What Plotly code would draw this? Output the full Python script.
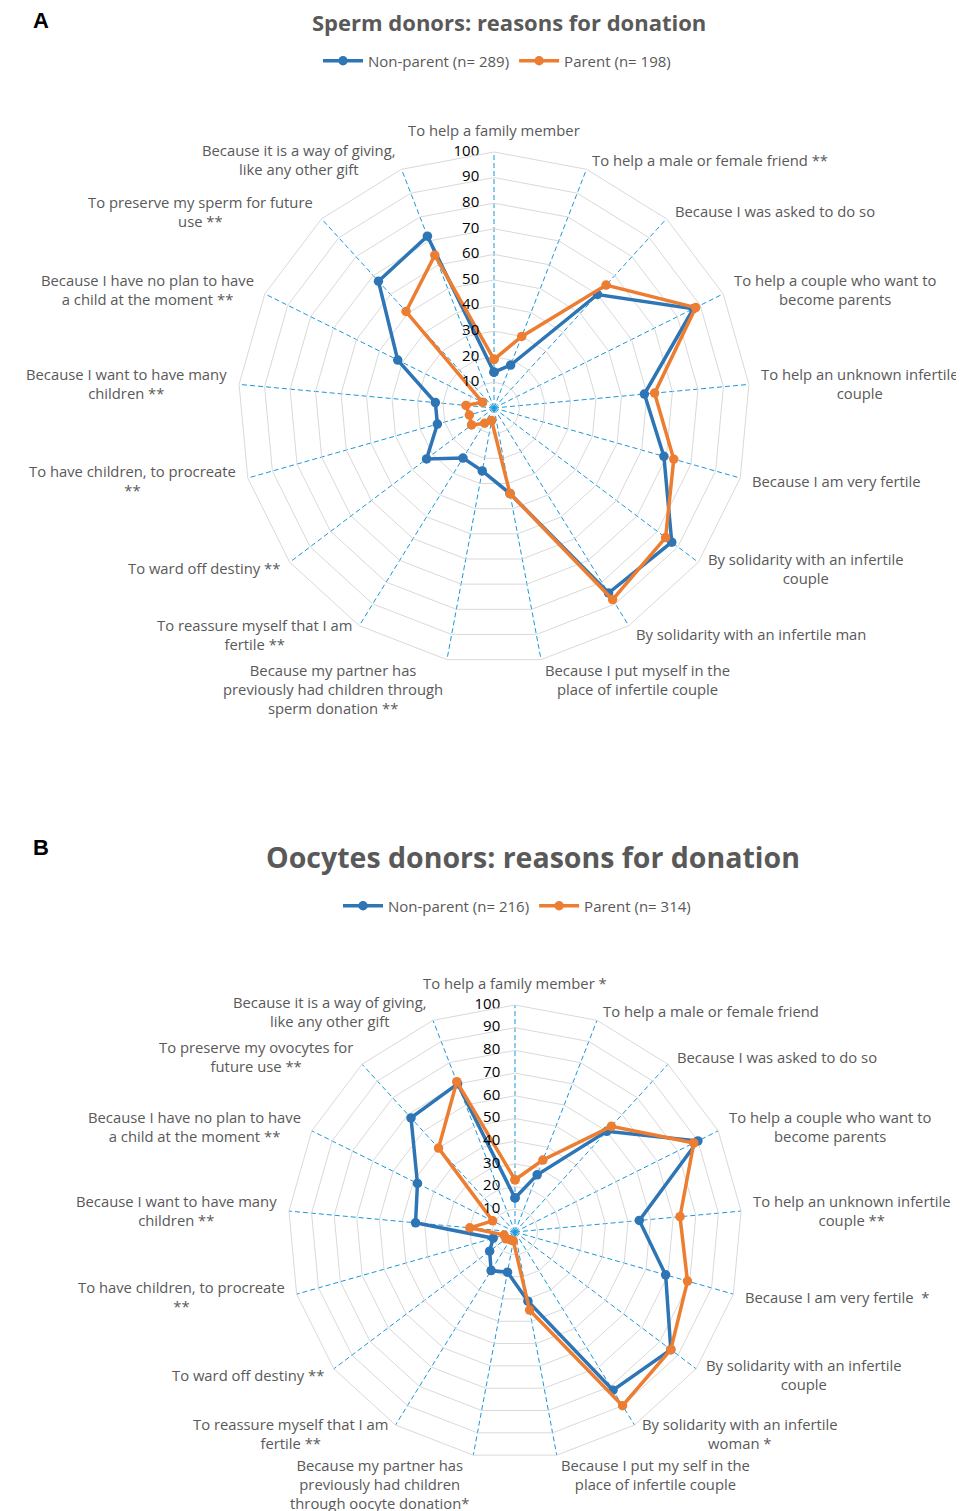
import math
import plotly.graph_objects as go

# categories (clockwise from the top), chart A: sperm donors
labels_a = [
    "To help a family member",
    "To help a male or female friend **",
    "Because I was asked to do so",
    "To help a couple who want to<br>become parents",
    "To help an unknown infertile<br>couple",
    "Because I am very fertile",
    "By solidarity with an infertile<br>couple",
    "By solidarity with an infertile man",
    "Because I put myself in the<br>place of infertile couple",
    "Because my partner has<br>previously had children through<br>sperm donation **",
    "To reassure myself that I am<br>fertile **",
    "To ward off destiny **",
    "To have children, to procreate<br>**",
    "Because I want to have many<br>children **",
    "Because I have no plan to have<br>a child at the moment **",
    "To preserve my sperm for future<br>use **",
    "Because it is a way of giving,<br>like any other gift",
]
nonparent_a = [14, 18, 60, 87, 59, 69, 87, 85, 34, 25, 23, 33, 23, 23, 42, 67, 72]
parent_a = [19, 30, 65, 88, 63, 73, 84, 88, 34, 5, 7, 11, 10, 11, 5, 51, 64]

# chart B: oocytes donors
labels_b = [
    "To help a family member *",
    "To help a male or female friend",
    "Because I was asked to do so",
    "To help a couple who want to<br>become parents",
    "To help an unknown infertile<br>couple **",
    "Because I am very fertile  *",
    "By solidarity with an infertile<br>couple",
    "By solidarity with an infertile<br>woman *",
    "Because I put my self in the<br>place of infertile couple",
    "Because my partner has<br>previously had children<br>through oocyte donation*",
    "To reassure myself that I am<br>fertile **",
    "To ward off destiny **",
    "To have children, to procreate<br>**",
    "Because I want to have many<br>children **",
    "Because I have no plan to have<br>a child at the moment **",
    "To preserve my ovocytes for<br>future use **",
    "Because it is a way of giving,<br>like any other gift",
]
nonparent_b = [15, 27, 60, 90, 55, 69, 86, 82, 31, 18, 20, 14, 10, 44, 48, 68, 70]
parent_b = [23, 34, 63, 88, 73, 79, 86, 90, 35, 4, 4, 5, 5, 20, 11, 50, 71]

radial_ticks = list(range(0, 101, 10))

BLUE = "#2e75b6"
ORANGE = "#ed7d31"
GREY = "#595959"
FONT = "Open Sans"

W, H = 964, 1511
SHIFT = 8  # page body margin


def fx(x):
    return (x - SHIFT) / W


def fy(y):
    return 1 - (y - SHIFT) / H


def closed(vals):
    return list(vals) + [vals[0]]


def category_labels(labels, cx, cy, R, pad=10):
    # text round the chart, placed beyond the end of each spoke
    anns = []
    n = len(labels)
    for i, txt in enumerate(labels):
        a = math.radians(i * 360 / n)
        s, c = math.sin(a), math.cos(a)
        x = cx + (R + pad) * s
        y = cy - (R + pad) * c
        if s > 0.05:
            xa = "left"
        elif s < -0.05:
            xa = "right"
        else:
            xa = "center"
        if c > 0.95:
            ya = "bottom"
        elif c < -0.9:
            ya = "top"
            y = cy - R * c - 2
        else:
            ya = "middle"
        anns.append(dict(text=txt, x=fx(x), y=fy(y), xref="paper", yref="paper", xanchor=xa, yanchor=ya,
                         align="center", showarrow=False, font=dict(family=FONT, size=14.8, color=GREY)))
    return anns


fig = go.Figure()

line_w, mark_s = 3.5, 9.5
fig.add_trace(go.Scatterpolar(r=closed(nonparent_a), theta=closed(labels_a), name="Non-parent (n= 289)",
                              mode="lines+markers", line=dict(color=BLUE, width=line_w),
                              marker=dict(size=mark_s), subplot="polar", legend="legend"))
fig.add_trace(go.Scatterpolar(r=closed(parent_a), theta=closed(labels_a), name="Parent (n= 198)",
                              mode="lines+markers", line=dict(color=ORANGE, width=line_w),
                              marker=dict(size=mark_s), subplot="polar", legend="legend"))
fig.add_trace(go.Scatterpolar(r=closed(nonparent_b), theta=closed(labels_b), name="Non-parent (n= 216)",
                              mode="lines+markers", line=dict(color=BLUE, width=line_w),
                              marker=dict(size=mark_s), subplot="polar2", legend="legend2"))
fig.add_trace(go.Scatterpolar(r=closed(parent_b), theta=closed(labels_b), name="Parent (n= 314)",
                              mode="lines+markers", line=dict(color=ORANGE, width=line_w),
                              marker=dict(size=mark_s), subplot="polar2", legend="legend2"))

# radial value labels, set a little to the left of the top spoke
for sub, labels in (("polar", labels_a), ("polar2", labels_b)):
    fig.add_trace(go.Scatterpolar(r=radial_ticks, theta=[labels[0]] * len(radial_ticks),
                                  text=[str(v) for v in radial_ticks], mode="markers+text",
                                  marker=dict(size=22, opacity=0), textposition="middle left",
                                  textfont=dict(family=FONT, size=15, color="black"),
                                  showlegend=False, hoverinfo="skip", subplot=sub))

polar_style = dict(
    bgcolor="white",
    gridshape="linear",
    radialaxis=dict(range=[0, 100], tickvals=radial_ticks, angle=90, showticklabels=False,
                    showline=False, ticks="", gridcolor="#d9d9d9", gridwidth=1),
    angularaxis=dict(direction="clockwise", rotation=90, type="category", showticklabels=False,
                     gridcolor="#1b98d8", griddash="5px,3px", gridwidth=1.3,
                     showline=True, linecolor="#d9d9d9", linewidth=1, ticks=""),
)

# chart centres and radii in pixels
cxa, cya, ra = 494, 408, 256
cxb, cyb, rb = 515, 1232, 227

annotations = category_labels(labels_a, cxa, cya, ra) + category_labels(labels_b, cxb, cyb, rb)
annotations += [
    dict(text="<b>Sperm donors: reasons for donation</b>", x=fx(509), y=fy(22), xanchor="center", yanchor="middle",
         xref="paper", yref="paper", showarrow=False, font=dict(family=FONT, size=22, color=GREY)),
    dict(text="<b>Oocytes donors: reasons for donation</b>", x=fx(533), y=fy(857), xanchor="center",
         yanchor="middle", xref="paper", yref="paper", showarrow=False,
         font=dict(family=FONT, size=28.5, color=GREY)),
    dict(text="<b>A</b>", x=fx(41), y=fy(21), xanchor="center", yanchor="middle", xref="paper", yref="paper",
         showarrow=False, font=dict(family="Liberation Sans", size=22, color="black")),
    dict(text="<b>B</b>", x=fx(41), y=fy(847), xanchor="center", yanchor="middle", xref="paper", yref="paper",
         showarrow=False, font=dict(family="Liberation Sans", size=22, color="black")),
]

fig.update_layout(
    width=W, height=H,
    margin=dict(l=0, r=0, t=0, b=0),
    paper_bgcolor="white",
    font=dict(family=FONT, color=GREY),
    polar=dict(domain=dict(x=[fx(cxa - ra), fx(cxa + ra)], y=[fy(cya + ra), fy(cya - ra)]), **polar_style),
    polar2=dict(domain=dict(x=[fx(cxb - rb), fx(cxb + rb)], y=[fy(cyb + rb), fy(cyb - rb)]), **polar_style),
    legend=dict(orientation="h", x=fx(497), xanchor="center", y=fy(61), yanchor="middle", itemwidth=40,
                font=dict(size=15, color=GREY)),
    legend2=dict(orientation="h", x=fx(517), xanchor="center", y=fy(906), yanchor="middle", itemwidth=40,
                 font=dict(size=15, color=GREY)),
    annotations=annotations,
)

fig.write_html("out.html")
